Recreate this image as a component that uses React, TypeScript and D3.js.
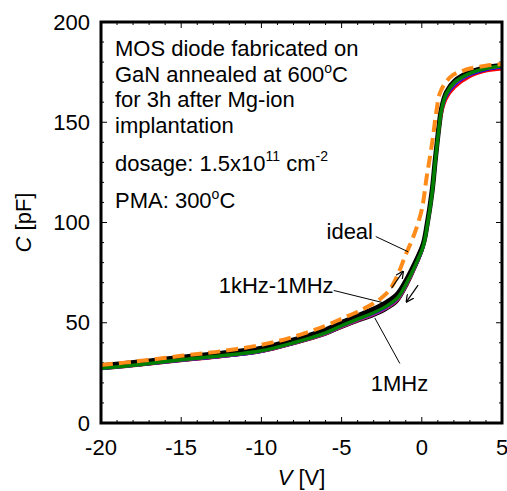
import React from 'react';
import * as d3 from 'd3';

// ideal C-V curve (orange dashed)
const vIdeal = [-20, -17.5, -15, -12.5, -10, -8, -6, -5, -4, -3, -2.5, -2, -1.5, -1, -0.5, 0, 0.3, 0.64, 0.92, 1.12, 1.5, 1.95, 2.5, 3, 4, 5];
const cIdeal = [28.9, 31.0, 33.5, 35.8, 39.0, 43.0, 48.5, 52.0, 55.5, 59.7, 62.5, 66.5, 74.0, 84.0, 93.5, 106.5, 122.5, 139.5, 156, 164.4, 170, 173.6, 175.5, 176.8, 178.2, 179];

// measured curves, 1kHz - 1MHz
const vMeas = [-20, -17.5, -15, -12.5, -10, -8, -6, -5, -4, -3, -2.2, -1.5, -0.85, -0.44, 0.08, 0.33, 0.64, 0.85, 1.08, 1.23, 1.54, 2.06, 3, 4, 5];
const cBlack = [28.6, 30.5, 32.8, 34.8, 37.3, 41.4, 46.5, 50.1, 53.5, 56.8, 60.2, 64.5, 73.0, 79.5, 89.0, 99.0, 115.5, 132.0, 148.5, 156.8, 165.0, 170.6, 175.0, 177.2, 178.4];
const c1MHz = [26.7, 28.6, 30.8, 32.7, 35.2, 39.1, 43.8, 47.2, 50.3, 53.2, 56.3, 60.3, 69.0, 76.0, 86.3, 96.5, 113.5, 130.5, 147.0, 155.5, 163.8, 169.5, 174.0, 176.5, 177.7];
const cRed = [26.8, 28.7, 30.9, 32.9, 35.4, 39.4, 44.2, 47.7, 50.9, 54.0, 57.2, 61.2, 70.0, 76.8, 86.8, 96.8, 113.5, 130.0, 146.0, 153.8, 161.5, 167.2, 172.6, 175.3, 176.4];
const cBlue = [26.9, 28.8, 31.0, 33.0, 35.5, 39.5, 44.4, 47.9, 51.1, 54.2, 57.5, 61.6, 70.3, 77.0, 87.0, 97.0, 113.8, 130.4, 146.8, 154.8, 162.8, 168.5, 173.4, 176.0, 177.2];
const cPurple = [26.8, 28.7, 30.9, 32.8, 35.3, 39.3, 44.1, 47.5, 50.7, 53.7, 56.9, 61.0, 69.7, 76.5, 86.6, 96.7, 113.6, 130.3, 146.6, 154.9, 163.0, 168.8, 173.6, 176.2, 177.4];
const cGreen = [27.3, 29.2, 31.5, 33.5, 36.0, 40.0, 45.0, 48.5, 51.8, 55.0, 58.3, 62.5, 71.3, 78.0, 87.9, 97.9, 114.6, 131.2, 147.8, 156.1, 164.4, 170.0, 174.4, 176.8, 178.0];

const xTicks = [-20, -15, -10, -5, 0, 5];
const yTicks = [0, 50, 100, 150, 200];

const W = 507, H = 491;
const m = { left: 101, top: 22, right: 5, bottom: 68 };
const font = 'Liberation Sans, Arial, sans-serif';

export default function App() {
  const x = d3.scaleLinear().domain([-20, 5]).range([m.left, W - m.right]);
  const y = d3.scaleLinear().domain([0, 200]).range([H - m.bottom, m.top]);
  const x0 = m.left, x1 = W - m.right, y0 = H - m.bottom, y1 = m.top;

  const line = (vs: number[], cs: number[]) =>
    d3.line<number>().x((_, i) => x(vs[i])).y(d => y(d)).curve(d3.curveCatmullRom.alpha(0.5))(cs) || '';

  const minorX = d3.range(-20, 5.01, 1);
  const minorY = d3.range(0, 200.01, 10);

  // leader lines, positions in data units
  const lead = (a: number[], b: number[]) => (
    <line x1={x(a[0])} y1={y(a[1])} x2={x(b[0])} y2={y(b[1])} stroke="#000" strokeWidth={1} />
  );

  return (
    <svg width={W} height={H} style={{ position: 'absolute', left: 0, top: 0, background: '#fff' }} fontFamily={font}>
      <defs>
        <marker id="ah" viewBox="0 0 10 10" refX="9" refY="5" markerWidth="8" markerHeight="8" orient="auto" markerUnits="userSpaceOnUse">
          <path d="M0,0 L10,5 L0,10" fill="none" stroke="#000" strokeWidth={1.5} />
        </marker>
      </defs>

      {/* ticks */}
      {minorX.map(v => {
        const l = v % 5 === 0 ? 6 : 3;
        return (
          <g key={'x' + v}>
            <line x1={x(v)} x2={x(v)} y1={y0} y2={y0 - l} stroke="#000" strokeWidth={1} />
            <line x1={x(v)} x2={x(v)} y1={y1} y2={y1 + l} stroke="#000" strokeWidth={1} />
          </g>
        );
      })}
      {minorY.map(c => {
        const l = c % 50 === 0 ? 6 : 3;
        return (
          <g key={'y' + c}>
            <line x1={x0} x2={x0 + l} y1={y(c)} y2={y(c)} stroke="#000" strokeWidth={1} />
            <line x1={x1} x2={x1 - l} y1={y(c)} y2={y(c)} stroke="#000" strokeWidth={1} />
          </g>
        );
      })}

      {/* curves */}
      <path d={line(vMeas, cBlack)} fill="none" stroke="#000" strokeWidth={5} />
      <path d={line(vMeas, c1MHz)} fill="none" stroke="#000" strokeWidth={1.2} />
      <path d={line(vMeas, cRed)} fill="none" stroke="#ff0000" strokeWidth={2.2} />
      <path d={line(vMeas, cBlue)} fill="none" stroke="#0000ff" strokeWidth={2.2} />
      <path d={line(vMeas, cPurple)} fill="none" stroke="#a020a0" strokeWidth={1.2} />
      <path d={line(vMeas, cGreen)} fill="none" stroke="#008000" strokeWidth={3.5} />
      <path d={line(vIdeal, cIdeal)} fill="none" stroke="#ff8c1a" strokeWidth={4} strokeDasharray="12 6" />

      {/* frame */}
      <rect x={x0} y={y1} width={x1 - x0} height={y0 - y1} fill="none" stroke="#000" strokeWidth={3} />

      {/* tick labels */}
      {xTicks.map(v => (
        <text key={'xl' + v} x={x(v)} y={y0 + 32} fontSize={22} textAnchor="middle">{v}</text>
      ))}
      {yTicks.map(c => (
        <text key={'yl' + c} x={x0 - 11} y={y(c)} dy="0.35em" fontSize={22} textAnchor="end">{c}</text>
      ))}

      {/* axis titles */}
      <text transform={`translate(31,${(y0 + y1) / 2}) rotate(-90)`} fontSize={22} textAnchor="middle">
        <tspan fontStyle="italic">C</tspan> [pF]
      </text>
      <text x={(x0 + x1) / 2} y={485} fontSize={22} textAnchor="middle">
        <tspan fontStyle="italic">V</tspan> [V]
      </text>

      {/* info text */}
      <g fontSize={22}>
        <text x={x0 + 14} y={y1 + 34}>MOS diode fabricated on</text>
        <text x={x0 + 14} y={y1 + 59.7}>GaN annealed at 600<tspan fontSize={14} dy={-9}>o</tspan><tspan dy={9}>C</tspan></text>
        <text x={x0 + 14} y={y1 + 85.3}>for 3h after Mg-ion</text>
        <text x={x0 + 14} y={y1 + 111.3}>implantation</text>
        <text x={x0 + 14} y={y1 + 148.7}>dosage: 1.5x10<tspan fontSize={14} dy={-10}>11</tspan><tspan dy={10}> cm</tspan><tspan fontSize={14} dy={-10}>-2</tspan></text>
        <text x={x0 + 14} y={y1 + 186.3}>PMA: 300<tspan fontSize={14} dy={-9}>o</tspan><tspan dy={9}>C</tspan></text>
      </g>

      {/* curve labels */}
      <g fontSize={22}>
        <text x={x(-5.94)} y={y(91.6)}>ideal</text>
        <text x={x(-12.66)} y={y(64.7)}>1kHz-1MHz</text>
        <text x={x(-3.18)} y={y(16.1)}>1MHz</text>
      </g>
      {lead([-2.87, 93.0], [-0.85, 85.4])}
      {lead([-5.49, 66.1], [-2.46, 60.1])}
      {lead([-1.37, 29.7], [-2.93, 52.4])}

      {/* sweep arrows */}
      <line x1={x(-1.89)} y1={y(67.2)} x2={x(-1.17)} y2={y(75.5)} stroke="#000" strokeWidth={1.2} markerEnd="url(#ah)" />
      <line x1={x(-0.23)} y1={y(68.8)} x2={x(-0.95)} y2={y(60.5)} stroke="#000" strokeWidth={1.2} markerEnd="url(#ah)" />
    </svg>
  );
}
